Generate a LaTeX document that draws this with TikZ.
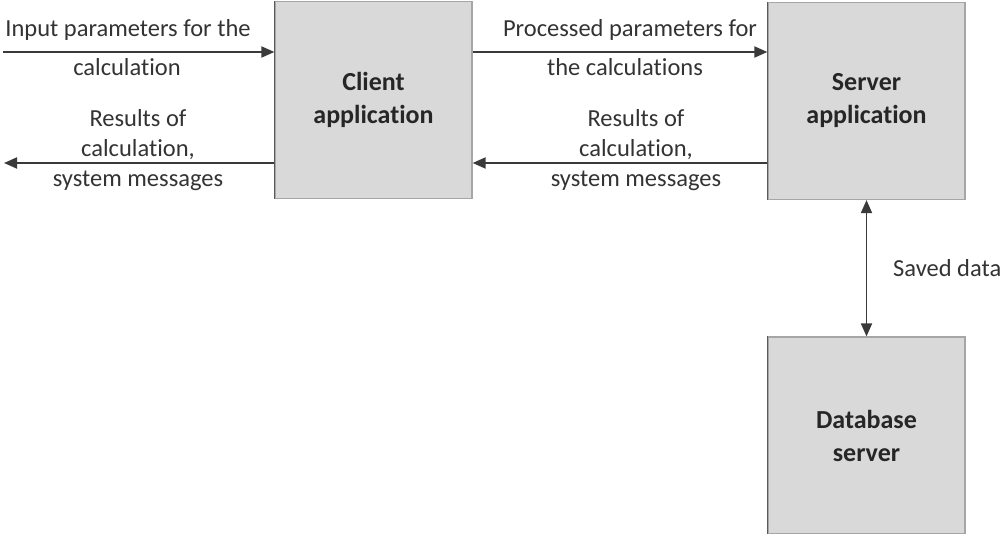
\documentclass[tikz,border=0pt]{standalone}
\usepackage{fontspec}
\setmainfont[Ligatures=NoCommon]{Carlito}
\usetikzlibrary{arrows.meta}
\definecolor{boxfill}{HTML}{D9D9D9}
\definecolor{boxline}{HTML}{A6A6A6}
\definecolor{boxedge}{HTML}{5A5A5A}
\definecolor{wire}{HTML}{3A3A3A}
\begin{document}
\begin{tikzpicture}[x=1pt,y=-1pt,
  block/.style={draw=boxline, line width=1.2pt, fill=boxfill,
    minimum width=197pt, minimum height=197pt, inner sep=0pt,
    align=center, font=\fontsize{26}{33}\selectfont\bfseries, text=black!85},
  edgeshade/.style={draw=boxedge, line width=1.6pt},
  flow/.style={draw=wire, line width=1.8pt, -{Triangle[length=13pt,width=11pt]}},
  lbl/.style={align=center, font=\fontsize{24.5}{30}\selectfont, text=black!80, inner sep=0pt}]
  \useasboundingbox (0,0) rectangle (1004,534);

  % components
  \node[block] (client) at (373.5,100) {Client\\application};
  \node[block] (server) at (866.5,101) {Server\\application};
  \node[block] (db) at (866.5,435.5) {Database\\server};
  \foreach \b in {client,server,db}
    \draw[edgeshade] (\b.north west) -- (\b.south west);

  % free ends on the left
  \coordinate (inL) at (3,52);
  \coordinate (outL) at (4,163);

  % data flows
  \draw[flow] (inL) -- (inL -| client.west);
  \draw[flow] (client.west |- outL) -- (outL);
  \draw[flow] (client.east |- inL) -- (server.west |- inL);
  \draw[flow] (server.west |- outL) -- (client.east |- outL);
  \draw[flow, {Triangle[length=13pt,width=11pt]}-{Triangle[length=13pt,width=11pt]}]
    (server.south) -- (db.north);

  % flow labels
  \node[lbl] (tIn1) at (128,30) {Input parameters for the};
  \node[lbl] (tIn2) at (127,67) {calculation};
  \node[lbl] (tOutL) at (138,150) {Results of\\calculation,\\system messages};
  \node[lbl] (tP1) at (630,30) {Processed parameters for};
  \node[lbl] (tP2) at (625,67) {the calculations};
  \node[lbl] (tOutM) at (636,150) {Results of\\calculation,\\system messages};
  \node[lbl, anchor=west] (tSave) at (893,268) {Saved data};
\end{tikzpicture}
\end{document}
